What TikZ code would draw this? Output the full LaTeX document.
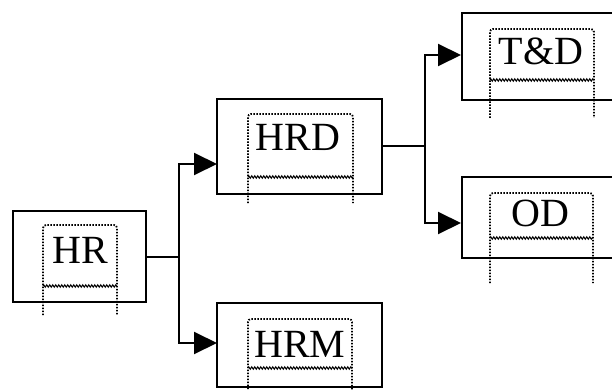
\documentclass[tikz,border=0pt]{standalone}
\usepackage{fontspec}
\setmainfont{Liberation Serif}
\usetikzlibrary{arrows.meta,decorations.pathmorphing}
\tikzset{
  outerbox/.style={draw=black,line width=2pt,rectangle,inner sep=0pt},
  label40/.style={font=\fontsize{40}{40}\selectfont,inner sep=0pt,anchor=base,text=black},
  dotline/.style={draw=black,line width=1.8pt,dash pattern=on 1.5pt off 1.5pt,rounded corners=3pt},
  wavyline/.style={draw=black,line width=1pt,decorate,decoration={zigzag,amplitude=1.2pt,segment length=3pt}},
  conn/.style={draw=black,line width=2pt},
  arr/.style={conn,-{Triangle[length=23pt,width=22pt]}}
}
\newcommand\txtframe[5]{%
  \draw[dotline] (#1,#5) -- (#1,#3) -- (#2,#3) -- (#2,#5);
  \draw[wavyline] (#1,#4) -- (#2,#4);
}
\begin{document}
\begin{tikzpicture}[x=1pt,y=-1pt]
\useasboundingbox (0,0) rectangle (612,390);
\clip (0,0) rectangle (612,390);
% outer boxes
\node[outerbox,minimum width=133pt,minimum height=91pt] (hr) at (79.5,256.5) {};
\node[outerbox,minimum width=165pt,minimum height=94pt] (hrd) at (299.5,146.5) {};
\node[outerbox,minimum width=165pt,minimum height=87pt,anchor=north west] (td) at (461,12) {};
\node[outerbox,minimum width=165pt,minimum height=81pt,anchor=north west] (od) at (461,176) {};
\node[outerbox,minimum width=165pt,minimum height=84pt] (hrm) at (299.5,345) {};
% text frames
\txtframe{43}{117}{225}{286}{315}
\txtframe{248}{353}{114}{177}{203}
\txtframe{490}{594}{29}{80}{118}
\txtframe{490}{593}{193}{238}{283}
\txtframe{248}{352}{319}{368}{395}
% labels
\node[label40] (thr) at (80,263) {HR};
\node[label40] (thrd) at (298,150) {HRD};
\node[label40] (ttd) at (541,65) {T\&D};
\node[label40] (tod) at (540,226) {OD};
\node[label40] (thrm) at (300,357) {HRM};
% connectors
\path (hr.east) ++(32,0) coordinate (j1);
\path (hrd.east) ++(42,0) coordinate (j2);
\coordinate (hrdin) at (217,164);
\coordinate (hrmin) at (217,343);
\coordinate (tdin) at (461,55);
\coordinate (odin) at (461,223);
\draw[conn] (hr.east) -- (j1);
\draw[arr] (j1) |- (hrdin);
\draw[arr] (j1) |- (hrmin);
\draw[conn] (hrd.east) -- (j2);
\draw[arr] (j2) |- (tdin);
\draw[arr] (j2) |- (odin);
\end{tikzpicture}
\end{document}
